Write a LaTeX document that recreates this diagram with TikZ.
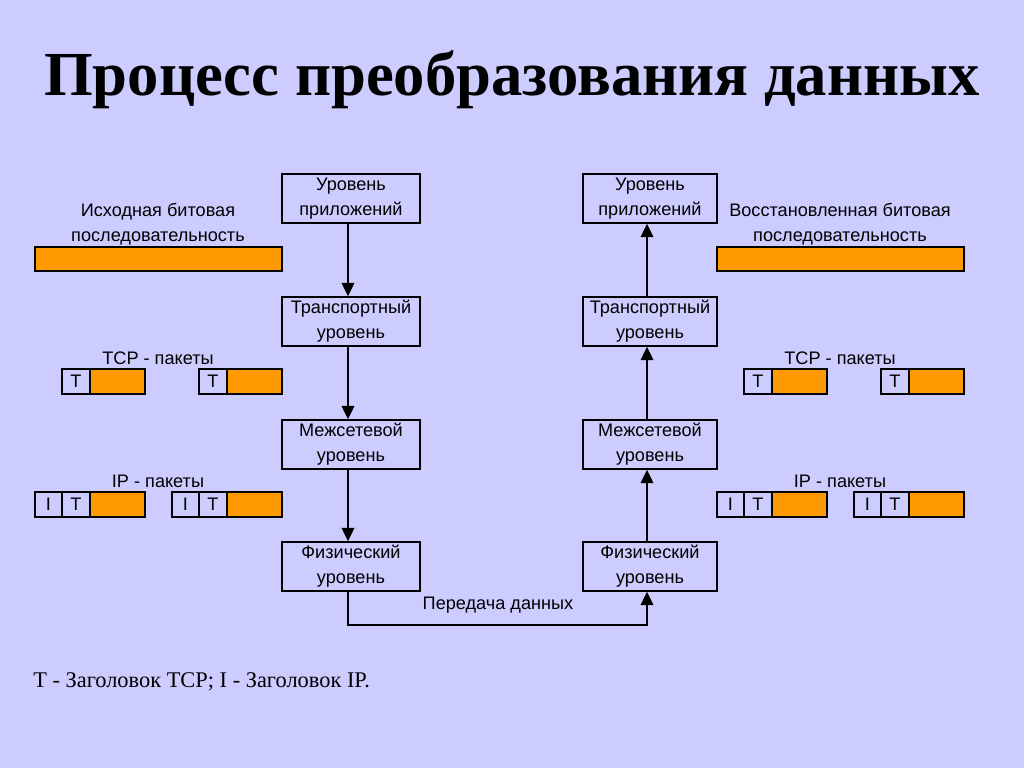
\documentclass[tikz,border=0pt]{standalone}
\usepackage{fontspec}
\setmainfont{Liberation Serif}
\setsansfont{Liberation Sans}
\usetikzlibrary{arrows.meta}
\definecolor{bg}{HTML}{CCCCFF}
\definecolor{org}{HTML}{FF9900}
\begin{document}
\begin{tikzpicture}[x=0.75pt,y=-0.75pt,
  layer/.style={draw=black,line width=1.1pt,fill=bg,minimum width=103.5pt,minimum height=36.75pt,inner sep=0pt,align=center,font=\sffamily\fontsize{13.6}{18.75}\selectfont},
  rlayer/.style={layer,minimum width=100.5pt},
  flow/.style={line width=0.9pt,-{Triangle[width=9.5pt,length=10pt]}},
  lbl/.style={align=center,inner sep=0pt,font=\sffamily\fontsize{13.6}{18.75}\selectfont},
  hc/.style={draw=black,line width=1pt,fill=bg,minimum width=21pt,minimum height=18.75pt,inner sep=0pt,outer sep=0pt,anchor=west,font=\sffamily\fontsize{13.6}{14}\selectfont},
  ic/.style={hc,minimum width=20.25pt},
  oc/.style={draw=black,line width=1pt,fill=org,minimum width=41.25pt,minimum height=18.75pt,inner sep=0pt,outer sep=0pt,anchor=west},
  bar/.style={draw=black,line width=1pt,fill=org,inner sep=0pt,outer sep=0pt,minimum width=185.25pt,minimum height=18pt},
]
\fill[bg] (0,0) rectangle (1024,768);
\useasboundingbox (0,0) rectangle (1024,768);

% title
\node[anchor=base,inner sep=0pt,font=\bfseries\fontsize{47}{52}\selectfont] (title) at (512,95) {Процесс преобразования данных};

% left stack
\node[layer] (la) at (351,198.5) {Уровень\\приложений};
\node[layer] (lt) at (351,321.5) {Транспортный\\уровень};
\node[layer] (li) at (351,444.5) {Межсетевой\\уровень};
\node[layer] (lp) at (351,566.5) {Физический\\уровень};
% right stack
\node[rlayer] (ra) at (650,198.5) {Уровень\\приложений};
\node[rlayer] (rt) at (650,321.5) {Транспортный\\уровень};
\node[rlayer] (ri) at (650,444.5) {Межсетевой\\уровень};
\node[rlayer] (rp) at (650,566.5) {Физический\\уровень};

\draw[flow] (la.south -| 348,0) -- (lt.north -| 348,0);
\draw[flow] (lt.south -| 348,0) -- (li.north -| 348,0);
\draw[flow] (li.south -| 348,0) -- (lp.north -| 348,0);
\draw[flow] (rt.north -| 647,0) -- (ra.south -| 647,0);
\draw[flow] (ri.north -| 647,0) -- (rt.south -| 647,0);
\draw[flow] (rp.north -| 647,0) -- (ri.south -| 647,0);

\coordinate (c1) at (348,625);
\coordinate (c2) at (647,625);
\draw[flow] (lp.south -| 348,0) -- (c1) -- (c2) -- (rp.south -| 647,0);
\node[lbl] (tx) at (498,605) {Передача данных};

% bit sequences
\node[lbl] (lsrc) at (158,224.5) {Исходная битовая\\последовательность};
\node[bar] (lbar) at (158.5,259) {};
\node[lbl] (rsrc) at (840,224.5) {Восстановленная битовая\\последовательность};
\node[bar] (rbar) at (840.5,259) {};

% TCP packets left
\node[lbl] (ltcp) at (158,358) {TCP - пакеты};
\node[hc] (lt1h) at (62,381.5) {T};
\node[oc] (lt1d) at (lt1h.east) {};
\node[hc] (lt2h) at (199,381.5) {T};
\node[oc] (lt2d) at (lt2h.east) {};
% IP packets left
\node[lbl] (lip) at (158,481) {IP - пакеты};
\node[ic] (li1i) at (35,504.5) {I};
\node[hc] (li1h) at (li1i.east) {T};
\node[oc] (li1d) at (li1h.east) {};
\node[ic] (li2i) at (172,504.5) {I};
\node[hc] (li2h) at (li2i.east) {T};
\node[oc] (li2d) at (li2h.east) {};

% TCP packets right
\node[lbl] (rtcp) at (840,358) {TCP - пакеты};
\node[hc] (rt1h) at (744,381.5) {T};
\node[oc] (rt1d) at (rt1h.east) {};
\node[hc] (rt2h) at (881,381.5) {T};
\node[oc] (rt2d) at (rt2h.east) {};
% IP packets right
\node[lbl] (rip) at (840,481) {IP - пакеты};
\node[ic] (ri1i) at (717,504.5) {I};
\node[hc] (ri1h) at (ri1i.east) {T};
\node[oc] (ri1d) at (ri1h.east) {};
\node[ic] (ri2i) at (854,504.5) {I};
\node[hc] (ri2h) at (ri2i.east) {T};
\node[oc] (ri2d) at (ri2h.east) {};

% footnote
\node[anchor=base west,inner sep=0pt,font=\fontsize{16.8}{19}\selectfont] (note) at (33,687) {T - Заголовок TCP; I - Заголовок IP.};
\end{tikzpicture}
\end{document}
